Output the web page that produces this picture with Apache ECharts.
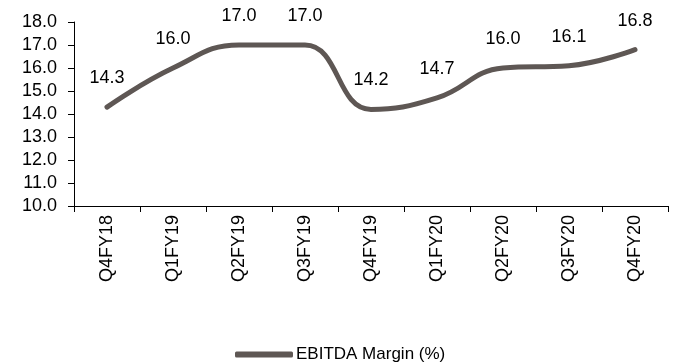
<!DOCTYPE html>
<html>
<head>
<meta charset="utf-8">
<script src="https://cdn.jsdelivr.net/npm/echarts@6/dist/echarts.min.js"></script>
<style>
  html, body { margin: 0; padding: 0; background: #fff; }
  #chart { width: 680px; height: 363px; }
</style>
</head>
<body>
<div id="chart"></div>
<script>
// Quarterly EBITDA margin, in percent
const quarters = ['Q4FY18', 'Q1FY19', 'Q2FY19', 'Q3FY19', 'Q4FY19', 'Q1FY20', 'Q2FY20', 'Q3FY20', 'Q4FY20'];
const ebitdaMargin = [14.3, 16.0, 17.0, 17.0, 14.2, 14.7, 16.0, 16.1, 16.8];
const seriesName = 'EBITDA Margin (%)';

const font = 'Liberation Sans, Arial, sans-serif';
const lineColor = '#5e5754';

const chart = echarts.init(document.getElementById('chart'), null, { renderer: 'canvas' });
chart.setOption({
  animation: false,
  backgroundColor: '#fff',
  grid: { left: 74, right: 12, top: 22, bottom: 157, containLabel: false },
  legend: {
    left: 230,
    top: 341,
    itemWidth: 58,
    itemHeight: 6,
    itemGap: 0,
    icon: 'roundRect',
    textStyle: { fontFamily: font, fontSize: 17, color: '#000', padding: [0, 0, 0, -2] },
    data: [{ name: seriesName, itemStyle: { color: lineColor } }]
  },
  xAxis: {
    type: 'category',
    data: quarters,
    boundaryGap: true,
    axisLine: { lineStyle: { color: '#000', width: 1 } },
    axisTick: { show: true, length: 6, alignWithLabel: false, lineStyle: { color: '#000' } },
    axisLabel: { rotate: 90, margin: 9, fontFamily: font, fontSize: 18, color: '#000' },
    splitLine: { show: false }
  },
  yAxis: {
    type: 'value',
    min: 10,
    max: 18,
    interval: 1,
    axisLine: { show: true, lineStyle: { color: '#000', width: 1 } },
    axisTick: { show: true, length: 6, lineStyle: { color: '#000' } },
    axisLabel: {
      margin: 17,
      fontFamily: font,
      fontSize: 18,
      color: '#000',
      formatter: v => v.toFixed(1)
    },
    splitLine: { show: false }
  },
  series: [{
    name: seriesName,
    type: 'line',
    data: ebitdaMargin,
    smooth: 0.45,
    showSymbol: true,
    symbol: 'circle',
    symbolSize: 0,
    lineStyle: { color: lineColor, width: 5, cap: 'round', join: 'round' },
    itemStyle: { color: lineColor },
    label: {
      show: true,
      position: 'top',
      distance: 20,
      fontFamily: font,
      fontSize: 18,
      color: '#000',
      formatter: p => p.value.toFixed(1)
    }
  }]
});
</script>
</body>
</html>
